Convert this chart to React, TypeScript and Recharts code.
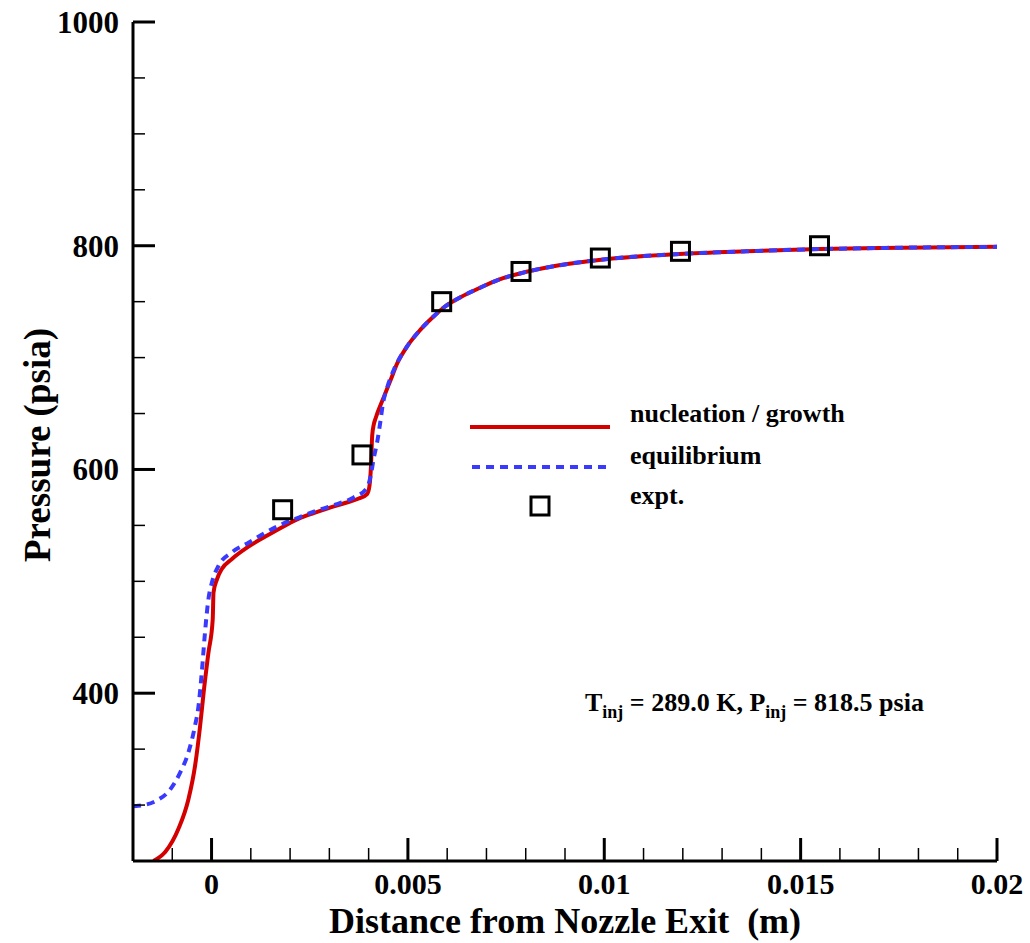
import { ComposedChart, Line, Scatter, XAxis, YAxis, Legend } from "recharts"

// x (m), pressure (psia)
const nucleationCurve: [number, number][] = [
  [-0.00148, 250], [-0.00118, 258], [-0.00084, 279], [-0.00059, 305], [-0.00042, 335],
  [-0.00029, 371], [-0.0002, 401], [-0.00008, 436], [0.00003, 466], [0.00005, 490],
  [0.00014, 502], [0.00026, 511], [0.00052, 520], [0.00094, 531], [0.00137, 540],
  [0.00188, 550], [0.00222, 556], [0.0026, 561], [0.00298, 565.5], [0.0034, 570],
  [0.00375, 574], [0.00396, 578], [0.00402, 585], [0.00406, 603], [0.00409, 630],
  [0.00413, 640], [0.00418, 646], [0.00439, 665], [0.00456, 680], [0.00473, 695],
  [0.00498, 710], [0.00532, 725], [0.00566, 737], [0.00592, 745], [0.00634, 754],
  [0.00681, 762], [0.0073, 769.5], [0.00783, 775], [0.00885, 782.5], [0.00992, 787.5],
  [0.01191, 792.6], [0.01361, 795], [0.01548, 797], [0.01702, 798], [0.02, 799],
]

const equilibriumCurve: [number, number][] = [
  [-0.002, 299], [-0.00186, 299.4], [-0.0014, 304], [-0.00105, 314], [-0.0008, 329],
  [-0.00059, 347], [-0.00042, 371], [-0.00033, 389], [-0.00025, 418], [-0.00016, 457],
  [-0.00008, 484], [0.00001, 499], [0.00018, 514], [0.00052, 526], [0.00094, 534.5],
  [0.00137, 543.5], [0.00179, 551], [0.00222, 557], [0.0027, 563.5], [0.00315, 568.5],
  [0.00362, 575], [0.00396, 583.6], [0.00405, 594], [0.00413, 610], [0.00422, 625],
  [0.0043, 643], [0.00436, 658], [0.00447, 673], [0.00464, 689], [0.00498, 710],
  [0.00532, 725], [0.00566, 737], [0.00592, 745], [0.00634, 754], [0.00681, 762],
  [0.0073, 769.5], [0.00783, 775], [0.00885, 782.5], [0.00992, 787.5], [0.01191, 792.6],
  [0.01361, 795], [0.01548, 797], [0.01702, 798], [0.02, 799],
]

const exptPoints: [number, number][] = [
  [0.00181, 564], [0.00383, 613], [0.00586, 750], [0.00788, 777],
  [0.0099, 789], [0.01194, 795], [0.01548, 800],
]

const xTicks = [
  -0.002, -0.001, 0, 0.001, 0.002, 0.003, 0.004, 0.005, 0.006, 0.007, 0.008, 0.009,
  0.01, 0.011, 0.012, 0.013, 0.014, 0.015, 0.016, 0.017, 0.018, 0.019, 0.02,
]
const xMajorTicks = [0, 0.005, 0.01, 0.015, 0.02]
const yTicks = [250, 300, 350, 400, 450, 500, 550, 600, 650, 700, 750, 800, 850, 900, 950, 1000]
const yMajorTicks = [400, 600, 800, 1000]

const seriesNames = ["nucleation / growth", "equilibrium", "expt."]

const RED = "#d40000"
const BLUE = "#3a3aff"
const FONT = "'Liberation Serif', 'Times New Roman', serif"

const toRows = (pts: [number, number][]) => pts.map(([x, p]) => ({ x, p }))

function XTick(props: any) {
  const { x, y, payload } = props
  const major = xMajorTicks.includes(payload.value)
  if (payload.value === -0.002) return null
  return (
    <g>
      <line x1={x} x2={x} y1={y} y2={y - (major ? 23 : 13)} stroke="#000" strokeWidth={major ? 3 : 1.5} />
      {major && (
        <text x={x} y={y + 33} textAnchor="middle" fontFamily={FONT} fontWeight="bold" fontSize={30} fill="#000">
          {String(payload.value)}
        </text>
      )}
    </g>
  )
}

function YTick(props: any) {
  const { x, y, payload } = props
  const major = yMajorTicks.includes(payload.value)
  if (payload.value === 250) return null
  return (
    <g>
      <line x1={x} x2={x + (major ? 22 : 12)} y1={y} y2={y} stroke="#000" strokeWidth={major ? 3 : 1.5} />
      {major && (
        <text x={x - 14} y={y + 11} textAnchor="end" fontFamily={FONT} fontWeight="bold" fontSize={31} fill="#000">
          {payload.value}
        </text>
      )}
    </g>
  )
}

function LegendBox() {
  const txt = { fontFamily: FONT, fontWeight: "bold" as const, fontSize: 26, fill: "#000" }
  return (
    <svg width={420} height={130} style={{ overflow: "visible" }}>
      <line x1={0} x2={140} y1={37} y2={37} stroke={RED} strokeWidth={4} />
      <text x={160} y={32} {...txt}>{seriesNames[0]}</text>
      <line x1={2} x2={138} y1={77} y2={77} stroke={BLUE} strokeWidth={4} strokeDasharray="8 6" />
      <text x={160} y={74} {...txt}>{seriesNames[1]}</text>
      <rect x={61} y={107} width={18} height={18} fill="none" stroke="#000" strokeWidth={3} />
      <text x={160} y={114} {...txt}>{seriesNames[2]}</text>
    </svg>
  )
}

function Square(props: any) {
  const { cx, cy } = props
  return <rect x={cx - 9} y={cy - 9} width={18} height={18} fill="none" stroke="#000" strokeWidth={3} />
}

export default function App() {
  return (
    <div style={{ position: "relative", width: 1030, height: 943, background: "#fff" }}>
      <style>{`body{margin:0}`}</style>
      <ComposedChart width={1030} height={943} margin={{ top: 22, right: 33, bottom: 22, left: 33 }}>
        <XAxis
          type="number"
          dataKey="x"
          domain={[-0.002, 0.02]}
          ticks={xTicks}
          interval={0}
          allowDataOverflow
          height={60}
          tickSize={0}
          tickMargin={0}
          tickLine={false}
          tick={<XTick />}
          axisLine={{ stroke: "#000", strokeWidth: 3 }}
        />
        <YAxis
          type="number"
          dataKey="p"
          domain={[250, 1000]}
          ticks={yTicks}
          interval={0}
          allowDataOverflow
          width={100}
          tickSize={0}
          tickMargin={0}
          tickLine={false}
          tick={<YTick />}
          axisLine={{ stroke: "#000", strokeWidth: 3 }}
        />
        <Legend
          layout="horizontal"
          verticalAlign="middle"
          align="center"
          content={() => <LegendBox />}
          wrapperStyle={{ position: "absolute", left: 470, top: 390, width: 420, height: 130 }}
        />
        <Line
          data={toRows(nucleationCurve)}
          dataKey="p"
          name={seriesNames[0]}
          type="monotone"
          stroke={RED}
          strokeWidth={4}
          dot={false}
          isAnimationActive={false}
        />
        <Line
          data={toRows(equilibriumCurve)}
          dataKey="p"
          name={seriesNames[1]}
          type="monotone"
          stroke={BLUE}
          strokeWidth={4}
          strokeDasharray="8 6"
          dot={false}
          isAnimationActive={false}
        />
        <Scatter
          data={toRows(exptPoints)}
          dataKey="p"
          name={seriesNames[2]}
          shape={<Square />}
          isAnimationActive={false}
        />
      </ComposedChart>
      <svg width={1030} height={943} style={{ position: "absolute", left: 0, top: 0, pointerEvents: "none" }}>
        <text x={565} y={933} textAnchor="middle" fontFamily={FONT} fontWeight="bold" fontSize={36} style={{ whiteSpace: "pre" }}>
          {"Distance from Nozzle Exit  (m)"}
        </text>
        <text x={50} y={445} textAnchor="middle" transform="rotate(-90, 50, 445)" fontFamily={FONT} fontWeight="bold" fontSize={37}>
          Pressure (psia)
        </text>
        <text x={585} y={711} fontFamily={FONT} fontWeight="bold" fontSize={26}>
          T<tspan fontSize={18} dy={7}>inj</tspan>
          <tspan dy={-7}>{" = 289.0 K, P"}</tspan>
          <tspan fontSize={18} dy={7}>inj</tspan>
          <tspan dy={-7}>{" = 818.5 psia"}</tspan>
        </text>
      </svg>
    </div>
  )
}
